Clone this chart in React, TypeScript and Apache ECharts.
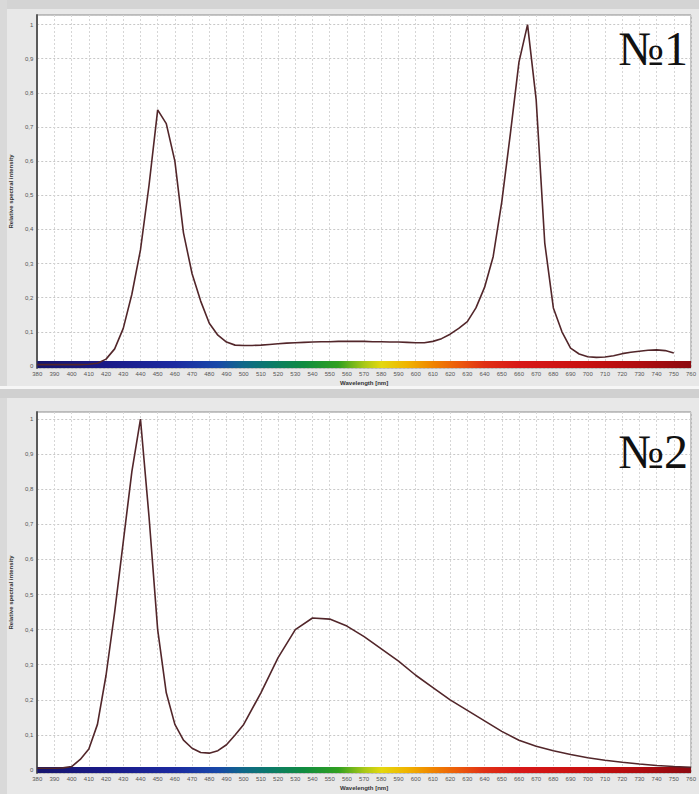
import React, { useEffect, useRef } from "react";
import * as echarts from "echarts";

// Spectrum №1 (5 nm steps, 380–750 nm)
const wavelengths1: number[] = [];
for (let w = 380; w <= 750; w += 5) wavelengths1.push(w);
const intensity1 = [
  0.004, 0.004, 0.004, 0.004, 0.004, 0.004, 0.005, 0.008, 0.02, 0.05,
  0.11, 0.21, 0.34, 0.53, 0.75, 0.71, 0.6, 0.39, 0.27, 0.19,
  0.125, 0.09, 0.07, 0.061, 0.06, 0.06, 0.061, 0.063, 0.065, 0.067,
  0.068, 0.069, 0.07, 0.071, 0.071, 0.072, 0.072, 0.072, 0.072, 0.071,
  0.071, 0.07, 0.07, 0.069, 0.068, 0.068, 0.072, 0.08, 0.093, 0.11,
  0.13, 0.17, 0.23, 0.32, 0.48, 0.68, 0.89, 1.0, 0.78, 0.36,
  0.17, 0.1, 0.052, 0.035, 0.027, 0.025, 0.026, 0.03, 0.036, 0.04,
  0.043, 0.046, 0.047, 0.045, 0.038,
];

// Spectrum №2
const wavelengths2 = [
  380, 385, 390, 395, 400, 405, 410, 415, 420, 425, 430, 435, 440, 445, 450,
  455, 460, 465, 470, 475, 480, 485, 490, 495, 500, 510, 520, 530, 540, 550,
  560, 570, 580, 590, 600, 610, 620, 630, 640, 650, 660, 670, 680, 690, 700,
  710, 720, 730, 740, 750, 760,
];
const intensity2 = [
  0.005, 0.005, 0.005, 0.006, 0.01, 0.03, 0.06, 0.13, 0.27, 0.45, 0.65, 0.85,
  1.0, 0.72, 0.4, 0.22, 0.13, 0.085, 0.062, 0.05, 0.048, 0.055, 0.072, 0.1,
  0.13, 0.22, 0.32, 0.4, 0.433, 0.43, 0.41, 0.38, 0.345, 0.31, 0.27, 0.235,
  0.2, 0.17, 0.14, 0.11, 0.085, 0.068, 0.055, 0.044, 0.035, 0.028, 0.022,
  0.017, 0.013, 0.01, 0.008,
];

const xMin = 380;
const xMax = 760;
const xStep = 10;
const yTitle = "Relative spectral intensity";
const xTitle = "Wavelength [nm]";
const labels = ["№1", "№2"];

// spectrum colour band stops (wavelength, colour)
const bandWl = [380, 420, 460, 485, 500, 515, 535, 555, 570, 580, 595, 610, 625, 640, 660, 700, 730, 760];
const bandCol = [
  "#16166e", "#1a1a88", "#1c2aa0", "#1848a8", "#106888", "#0c7a6a", "#108c40",
  "#30a020", "#a8c818", "#e4d810", "#f0b400", "#f08400", "#ec5a0c", "#e03014",
  "#d81818", "#c81010", "#b00c10", "#8c0a10",
];

const fmtY = (v: number) => {
  const r = Math.round(v * 10);
  if (Math.abs(v * 10 - r) > 1e-6) return "";
  if (r === 0) return "0";
  if (r === 10) return "1";
  return "0," + r;
};

export default function App() {
  const ref = useRef<HTMLDivElement>(null);
  useEffect(() => {
    if (!ref.current) return;
    const chart = echarts.init(ref.current, null, { renderer: "svg" });
    const gradient = new echarts.graphic.LinearGradient(
      0, 0, 1, 0,
      bandWl.map((w, i) => ({ offset: (w - xMin) / (xMax - xMin), color: bandCol[i] }))
    );
    const font = "Liberation Sans";
    const grids = [
      { left: 34, top: 15, right: 2, height: 353 },
      { left: 34, top: 412, right: 6, height: 361 },
    ];
    const yRanges = [
      { min: -0.006, max: 1.028, band: [-0.006, 0.0146] },
      { min: -0.0085, max: 1.02, band: [-0.0085, 0.0085] },
    ];
    const datas = [
      wavelengths1.map((w, i) => [w, intensity1[i]]),
      wavelengths2.map((w, i) => [w, intensity2[i]]),
    ];
    const option: any = {
      animation: false,
      backgroundColor: "#e8e8e8",
      graphic: [
        { type: "rect", shape: { x: 0, y: 0, width: 699, height: 9 }, style: { fill: "#d4d4d4" }, z: -10 },
        { type: "rect", shape: { x: 0, y: 0, width: 7, height: 388 }, style: { fill: "#d9d9d9" }, z: -10 },
        { type: "rect", shape: { x: 0, y: 386, width: 699, height: 3 }, style: { fill: "#f6f6f6" }, z: -10 },
        { type: "rect", shape: { x: 0, y: 389, width: 699, height: 9 }, style: { fill: "#d0d0d0" }, z: -10 },
        { type: "rect", shape: { x: 0, y: 398, width: 7, height: 396 }, style: { fill: "#d9d9d9" }, z: -10 },
        {
          type: "text", x: 688, y: 48, z: 10,
          style: { text: labels[0], font: '48px "Liberation Serif"', fill: "#111", textAlign: "right", textVerticalAlign: "middle" },
        },
        {
          type: "text", x: 688, y: 451, z: 10,
          style: { text: labels[1], font: '48px "Liberation Serif"', fill: "#111", textAlign: "right", textVerticalAlign: "middle" },
        },
      ],
      grid: grids.map((g) => ({
        ...g,
        show: true,
        backgroundColor: "#ffffff",
        borderColor: "#8c8c8c",
        borderWidth: 1,
      })),
      xAxis: grids.map((_, i) => ({
        type: "value",
        gridIndex: i,
        min: xMin,
        max: xMax,
        interval: xStep,
        name: xTitle,
        nameLocation: "middle",
        nameGap: 12,
        nameTextStyle: { fontSize: 6, fontWeight: "bold", color: "#333", fontFamily: font },
        axisLine: { show: false },
        axisTick: { show: false },
        axisLabel: { fontSize: 6, color: "#555", margin: 3, fontFamily: font, hideOverlap: false },
        splitLine: { show: true, lineStyle: { color: "#d6d6d6", width: 1, type: [2, 2] } },
      })),
      yAxis: grids.map((_, i) => ({
        type: "value",
        gridIndex: i,
        min: yRanges[i].min,
        max: yRanges[i].max,
        splitNumber: 10,
        name: yTitle,
        nameLocation: "middle",
        nameRotate: 90,
        nameGap: 21,
        nameTextStyle: { fontSize: 6, fontWeight: "bold", color: "#333", fontFamily: font },
        axisLine: { show: true, lineStyle: { color: "#5a5a5a", width: 2 } },
        axisTick: { show: false },
        axisLabel: { fontSize: 6, color: "#555", margin: 4, fontFamily: font, formatter: fmtY },
        splitLine: { show: true, lineStyle: { color: "#c8c8c8", width: 1, type: [2, 2] } },
      })),
      series: datas.map((d, i) => ({
        type: "line",
        xAxisIndex: i,
        yAxisIndex: i,
        data: d,
        showSymbol: false,
        symbol: "none",
        smooth: false,
        clip: false,
        lineStyle: { color: "#52262a", width: 1.6 },
        z: 5,
        markArea: {
          silent: true,
          itemStyle: { color: gradient, opacity: 1 },
          data: [[{ xAxis: xMin, yAxis: yRanges[i].band[0] }, { xAxis: xMax, yAxis: yRanges[i].band[1] }]],
          z: 1,
        },
      })),
    };
    chart.setOption(option);
    return () => chart.dispose();
  }, []);
  return (
    <div
      ref={ref}
      style={{ position: "absolute", left: 0, top: 0, width: 699, height: 794 }}
    />
  );
}
